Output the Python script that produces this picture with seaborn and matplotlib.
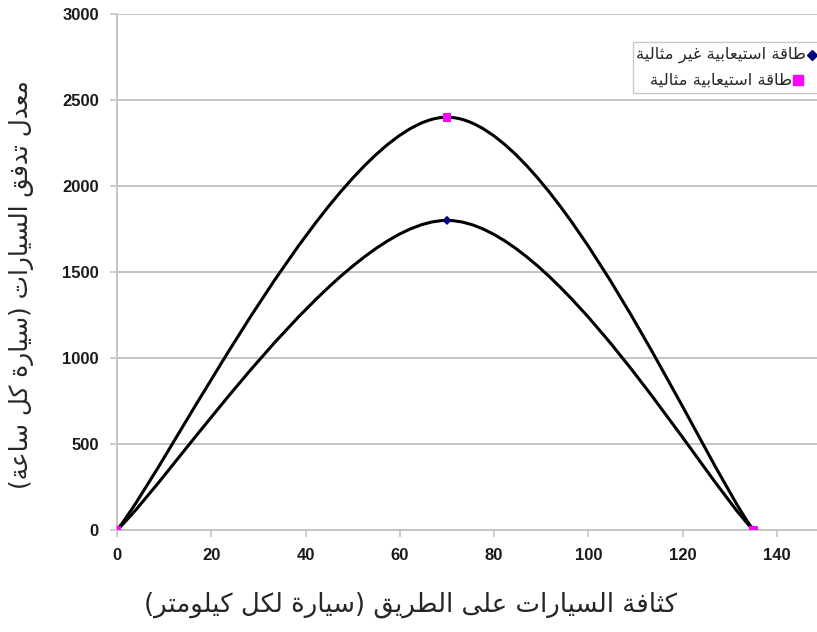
import numpy as np
import pandas as pd
import matplotlib
matplotlib.use('Agg')
import matplotlib.pyplot as plt
import seaborn as sns
from matplotlib.path import Path
from matplotlib.patches import PathPatch, Rectangle
from matplotlib.lines import Line2D

# data
density = [0, 70, 135]
flow_nonideal = [0, 1800, 0]
flow_ideal = [0, 2400, 0]
x_ticks = [0, 20, 40, 60, 80, 100, 120, 140]
y_ticks = [0, 500, 1000, 1500, 2000, 2500, 3000]

label_nonideal = 'طاقة استيعابية غير مثالية'
label_ideal = 'طاقة استيعابية مثالية'
x_title = 'كثافة السيارات على الطريق (سيارة لكل كيلومتر)'
y_title = 'معدل تدفق السيارات (سيارة كل ساعة)'

# arabic presentation forms: isolated, final, initial, medial
FORMS = {
    'ا': ('\uFE8D', '\uFE8E'),
    'ب': ('\uFE8F', '\uFE90', '\uFE91', '\uFE92'),
    'ة': ('\uFE93', '\uFE94'),
    'ت': ('\uFE95', '\uFE96', '\uFE97', '\uFE98'),
    'ث': ('\uFE99', '\uFE9A', '\uFE9B', '\uFE9C'),
    'د': ('\uFEA9', '\uFEAA'),
    'ر': ('\uFEAD', '\uFEAE'),
    'س': ('\uFEB1', '\uFEB2', '\uFEB3', '\uFEB4'),
    'ط': ('\uFEC1', '\uFEC2', '\uFEC3', '\uFEC4'),
    'ع': ('\uFEC9', '\uFECA', '\uFECB', '\uFECC'),
    'غ': ('\uFECD', '\uFECE', '\uFECF', '\uFED0'),
    'ف': ('\uFED1', '\uFED2', '\uFED3', '\uFED4'),
    'ق': ('\uFED5', '\uFED6', '\uFED7', '\uFED8'),
    'ك': ('\uFED9', '\uFEDA', '\uFEDB', '\uFEDC'),
    'ل': ('\uFEDD', '\uFEDE', '\uFEDF', '\uFEE0'),
    'م': ('\uFEE1', '\uFEE2', '\uFEE3', '\uFEE4'),
    'و': ('\uFEED', '\uFEEE'),
    'ى': ('\uFEEF', '\uFEF0'),
    'ي': ('\uFEF1', '\uFEF2', '\uFEF3', '\uFEF4'),
}


def shape(text):
    res = []
    i = 0
    while i < len(text):
        c = text[i]
        if c not in FORMS:
            res.append(c)
            i += 1
            continue
        prev = text[i - 1] if i > 0 else ''
        joins_prev = prev in FORMS and len(FORMS[prev]) == 4
        if c == 'ل' and i + 1 < len(text) and text[i + 1] == 'ا':
            res.append('\uFEFC' if joins_prev else '\uFEFB')
            i += 2
            continue
        nxt = text[i + 1] if i + 1 < len(text) else ''
        joins_next = len(FORMS[c]) == 4 and nxt in FORMS
        f = FORMS[c]
        if joins_prev and joins_next:
            g = f[3]
        elif joins_prev:
            g = f[1]
        elif joins_next:
            g = f[2]
        else:
            g = f[0]
        res.append(g)
        i += 1
    return ''.join(res)


def rtl(text):
    # shaped glyphs in visual (left to right) order, brackets mirrored
    s = shape(text)[::-1]
    return s.translate(str.maketrans('()', ')('))


def smooth_path(xs, ys):
    pts = np.column_stack([xs, ys]).astype(float)
    n = len(pts)
    tang = [pts[min(i + 1, n - 1)] - pts[max(i - 1, 0)] for i in range(n)]
    verts = [pts[0]]
    codes = [Path.MOVETO]
    for i in range(n - 1):
        verts += [pts[i] + tang[i] / 6, pts[i + 1] - tang[i + 1] / 6, pts[i + 1]]
        codes += [Path.CURVE4] * 3
    return Path(verts, codes)


sns.set_style('white')
plt.rcParams['font.family'] = ['DejaVu Sans']

W, H = 817, 632
grid_col = '#c4c4c4'
fig = plt.figure(figsize=(W / 100, H / 100), dpi=100)
ax = fig.add_axes([117 / W, 102 / H, 160 * 4.714 / W, 516 / H])

for ys in (flow_nonideal, flow_ideal):
    ax.add_patch(PathPatch(smooth_path(density, ys), facecolor='none',
                           edgecolor='black', lw=2.2, zorder=3))

df = pd.DataFrame({'density': density, 'nonideal': flow_nonideal, 'ideal': flow_ideal})
sns.scatterplot(data=df, x='density', y='nonideal', marker='D', color='#000080',
                s=22, edgecolor='none', zorder=4, legend=False, ax=ax)
sns.scatterplot(data=df, x='density', y='ideal', marker='s', color='#ff00ff',
                s=40, edgecolor='none', zorder=5, legend=False, ax=ax)

ax.set_xlim(0, 160)
ax.set_ylim(0, 3000)
ax.set_xticks(x_ticks)
ax.set_yticks(y_ticks)
ax.yaxis.grid(True, color=grid_col, lw=1.4)
ax.xaxis.grid(False)
ax.set_axisbelow(True)
for side in ('top', 'right'):
    ax.spines[side].set_visible(False)
for side in ('left', 'bottom'):
    ax.spines[side].set_color(grid_col)
    ax.spines[side].set_linewidth(1.4)
ax.tick_params(axis='both', which='major', length=5, width=1.2, color=grid_col,
               direction='out', left=True, bottom=True)
ax.tick_params(axis='y', pad=8)
ax.tick_params(axis='x', pad=8)
for t in ax.get_xticklabels() + ax.get_yticklabels():
    t.set_fontfamily('Liberation Sans')
    t.set_fontweight('bold')
    t.set_fontsize(12)
    t.set_color('#1a1a1a')

ax.set_xlabel('')
ax.set_ylabel('')
fig.text(411 / W, 1 - 605 / H, rtl(x_title), ha='center', va='center',
         fontsize=18.7, family=['DejaVu Sans'])
fig.text(22 / W, 1 - 285 / H, rtl(y_title), ha='center', va='center',
         rotation=90, fontsize=17.8, family=['DejaVu Sans'])

# legend box: text centred, marker right after the text (as in the source)
fig.add_artist(Rectangle((633 / W, 1 - 93 / H), 200 / W, 51 / H, transform=fig.transFigure,
                         facecolor='white', edgecolor='#c8c8c8', lw=1.0, zorder=6))
entries = [(label_nonideal, 'D', '#000080', 5, 55), (label_ideal, 's', '#ff00ff', 6.5, 80)]
fig.canvas.draw()
renderer = fig.canvas.get_renderer()
for label, mk, col, ms, ypx in entries:
    t = fig.text(721 / W, 1 - ypx / H, rtl(label), ha='center', va='center',
                 fontsize=11.8, family=['DejaVu Sans'], zorder=7)
    bb = t.get_window_extent(renderer)
    fig.add_artist(Line2D([(bb.x1 + 6) / W], [1 - ypx / H], transform=fig.transFigure,
                          marker=mk, color=col, markersize=ms, lw=0, zorder=7))

fig.savefig('out.png', dpi=100)
